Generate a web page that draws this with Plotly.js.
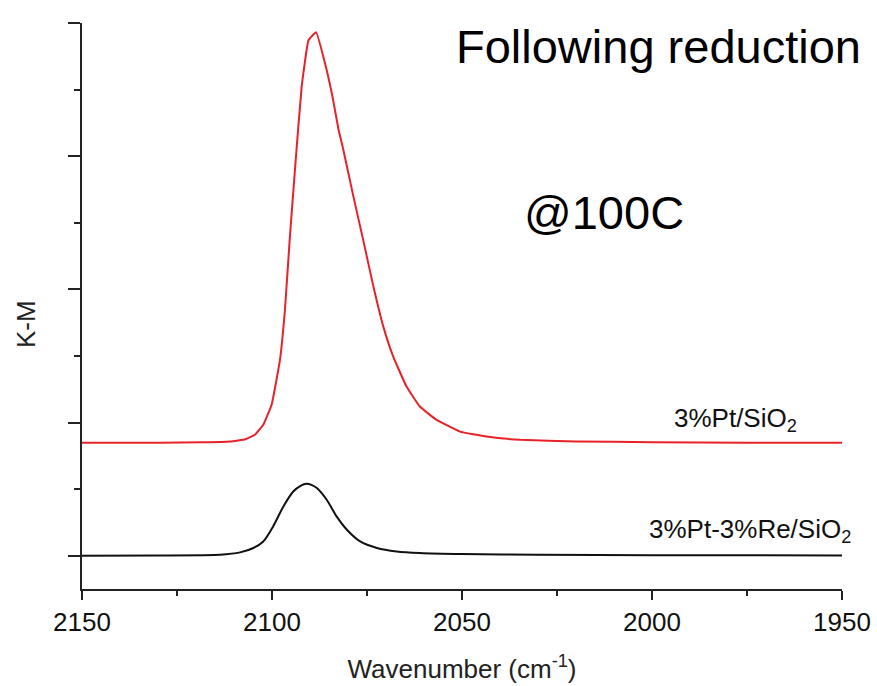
<!DOCTYPE html>
<html>
<head>
<meta charset="utf-8">
<script src="https://cdn.plot.ly/plotly-3.0.1.min.js"></script>
<style>html,body{margin:0;padding:0;background:#fff;}#chart{width:877px;height:686px;}</style>
</head>
<body>
<div id="chart"></div>
<script>
// Wavenumber (cm-1) and K-M values
const ptWave = [2150, 2130, 2118, 2111, 2107, 2104.5, 2102.3, 2100.1, 2097.9, 2096.6, 2095.3, 2093.9, 2092.2, 2090.4, 2088.4, 2085.6, 2083.9, 2082.5, 2081.2, 2078.6, 2076.0, 2073.3, 2070.7, 2068.1, 2064.6, 2061.1, 2056.7, 2050.5, 2043.5, 2034.7, 2020, 2000, 1975, 1950];
const ptKM   = [0.848, 0.849, 0.851, 0.857, 0.875, 0.908, 0.983, 1.133, 1.47, 1.845, 2.39, 2.92, 3.52, 3.87, 3.93, 3.645, 3.42, 3.2, 3.045, 2.70, 2.37, 2.02, 1.72, 1.495, 1.27, 1.12, 1.02, 0.932, 0.895, 0.87, 0.858, 0.852, 0.849, 0.848];

const ptReWave = [2150, 2130, 2113.7, 2108.4, 2104.9, 2102.3, 2099.7, 2097.0, 2094.4, 2092.5, 2090.9, 2089.5, 2088.2, 2085.6, 2083.0, 2080.3, 2076.8, 2072.4, 2067.2, 2061.1, 2050, 2030, 2000, 1950];
const ptReKM   = [0.0, 0.002, 0.0075, 0.025, 0.058, 0.107, 0.22, 0.37, 0.482, 0.525, 0.54, 0.53, 0.508, 0.42, 0.295, 0.195, 0.107, 0.058, 0.032, 0.02, 0.012, 0.007, 0.004, 0.002];

const xTickVals = [2150, 2100, 2050, 2000, 1950];
const xTickText = ["2150", "2100", "2050", "2000", "1950"];
const yTickVals = [0, 1, 2, 3, 4];

const seriesNames = ["3%Pt/SiO<sub>2</sub>", "3%Pt-3%Re/SiO<sub>2</sub>"];

const font = "Liberation Sans, Arial, sans-serif";

const traces = [
  {x: ptWave, y: ptKM, mode: "lines", name: seriesNames[0],
   line: {color: "rgb(232,34,40)", width: 2, shape: "spline", smoothing: 0.3}},
  {x: ptReWave, y: ptReKM, mode: "lines", name: seriesNames[1],
   line: {color: "#111", width: 2, shape: "spline", smoothing: 0.6}}
];

const layout = {
  width: 877, height: 686,
  margin: {l: 82, r: 35, t: 23, b: 97},
  paper_bgcolor: "#fff", plot_bgcolor: "#fff",
  showlegend: false,
  font: {family: font, color: "#111", size: 26},
  xaxis: {
    range: [2150, 1950], autorange: false,
    tickvals: xTickVals, ticktext: xTickText,
    ticks: "outside", ticklen: 9, tickwidth: 2, tickcolor: "#222",
    minor: {dtick: 25, ticks: "outside", ticklen: 5, tickwidth: 2, tickcolor: "#222", showgrid: false},
    showline: true, linecolor: "#222", linewidth: 2,
    showgrid: false, zeroline: false,
    tickfont: {family: font, size: 26, color: "#111"},
    title: {text: "Wavenumber (cm<sup>-1</sup>)", font: {family: font, size: 26, color: "#222"}, standoff: 24}
  },
  yaxis: {
    range: [-0.25, 4], autorange: false,
    tickvals: yTickVals, showticklabels: false,
    ticks: "outside", ticklen: 12, tickwidth: 2, tickcolor: "#222",
    minor: {dtick: 0.5, ticks: "outside", ticklen: 6, tickwidth: 2, tickcolor: "#222", showgrid: false},
    showline: true, linecolor: "#222", linewidth: 2,
    showgrid: false, zeroline: false
  },
  annotations: [
    {text: "K-M", xref: "paper", yref: "paper", x: (26 - 82) / 760, y: (589 - 324) / 566,
     xanchor: "center", yanchor: "middle", textangle: -90, showarrow: false,
     font: {family: font, size: 26, color: "#222"}},
    {text: "Following reduction", xref: "paper", yref: "paper", x: 0.49, y: 0.9576,
     xanchor: "left", yanchor: "middle", showarrow: false, font: {family: font, size: 47, color: "#000"}},
    {text: "@100C", xref: "paper", yref: "paper", x: 0.579, y: 0.666,
     xanchor: "left", yanchor: "middle", showarrow: false, font: {family: font, size: 47, color: "#000"}},
    {text: seriesNames[0], xref: "paper", yref: "paper", x: 0.944, y: 0.30,
     xanchor: "right", yanchor: "middle", showarrow: false, font: {family: font, size: 26, color: "#111"}},
    {text: seriesNames[1], xref: "paper", yref: "paper", x: 1.015, y: 0.103,
     xanchor: "right", yanchor: "middle", showarrow: false, font: {family: font, size: 26, color: "#111"}}
  ]
};

Plotly.newPlot("chart", traces, layout, {displayModeBar: false, staticPlot: true});
</script>
</body>
</html>
